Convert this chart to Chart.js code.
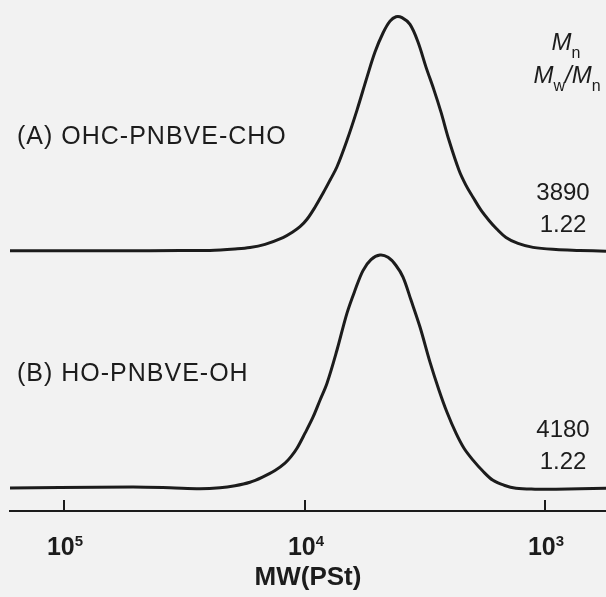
<!DOCTYPE html>
<html>
<head>
<meta charset="utf-8">
<script src="https://cdn.jsdelivr.net/npm/chart.js"></script>
<style>
  html, body { margin: 0; padding: 0; background: #f2f2f2; }
  #wrap { width: 606px; height: 597px; }
</style>
</head>
<body>
<div id="wrap"><canvas id="gpcChart"></canvas></div>

<script>
// GPC traces: log10(MW) against normalised RI response
const logMwA = [5.2245, 5.0166, 4.7672, 4.5177, 4.3929, 4.2890, 4.2266, 4.1642, 4.0894, 4.0520, 4.0187,
                3.9896, 3.9563, 3.9231, 3.8940, 3.8649, 3.8233, 3.7817, 3.7401, 3.7069, 3.6736,
                3.6445, 3.6195, 3.5946, 3.5613, 3.5281, 3.4948, 3.4615, 3.4324, 3.3992, 3.3576,
                3.3285, 3.2994, 3.2661, 3.2328, 3.1996, 3.1622, 3.1123, 3.0499, 2.9543, 2.8545, 2.7464];
const respA  = [0, 0, 0, 0.001, 0.002, 0.008, 0.014, 0.028, 0.057, 0.079, 0.104,
                0.136, 0.188, 0.248, 0.304, 0.362, 0.476, 0.606, 0.748, 0.856, 0.938,
                0.989, 1.008, 1.004, 0.975, 0.899, 0.791, 0.692, 0.597, 0.476, 0.347,
                0.282, 0.231, 0.175, 0.131, 0.093, 0.058, 0.032, 0.015, 0.006, 0.002, -0.002];

const logMwB = [5.2245, 5.0166, 4.7131, 4.5593, 4.4345, 4.3514, 4.2890, 4.2266, 4.1767, 4.1227,
                4.0811, 4.0561, 4.0312, 3.9979, 3.9647, 3.9356, 3.9064, 3.8649, 3.8233, 3.7900, 3.7568,
                3.7235, 3.6861, 3.6528, 3.6195, 3.5904, 3.5572, 3.5198, 3.4782, 3.4407, 3.4075,
                3.3701, 3.3368, 3.2994, 3.2578, 3.2162, 3.1705, 3.1206, 3.0416, 2.9543, 2.8545, 2.7464];
const respB  = [-0.001, 0.001, 0.003, 0, -0.004, 0, 0.009, 0.024, 0.045, 0.074,
                0.106, 0.134, 0.170, 0.235, 0.304, 0.377, 0.450, 0.593, 0.752, 0.850, 0.935,
                0.982, 1.002, 0.992, 0.957, 0.907, 0.808, 0.692, 0.541, 0.420, 0.325,
                0.235, 0.170, 0.119, 0.071, 0.032, 0.011, -0.002, -0.006, -0.006, -0.004, -0.002];

const sampleNames  = ['(A) OHC-PNBVE-CHO', '(B) HO-PNBVE-OH'];
const mnValues     = ['3890', '4180'];
const dispersities = ['1.22', '1.22'];
const traceOffsets = [1.02, 0];   // stacking of the two traces

const mwTicks = [1e5, 1e4, 1e3];
const tickExponents = ['5', '4', '3'];

const FONT = '"Liberation Sans", Arial, sans-serif';
const INK = '#1c1c1c';

function drawRuns(ctx, runs, cx, baseY) {
  let total = 0;
  runs.forEach(r => { ctx.font = r.font; r.w = ctx.measureText(r.text).width; total += r.w; });
  let x = cx - total / 2;
  runs.forEach(r => {
    ctx.font = r.font;
    ctx.fillText(r.text, x, baseY + (r.dy || 0));
    x += r.w;
  });
}

const gpcDecor = {
  id: 'gpcDecor',
  afterDraw(chart) {
    const ctx = chart.ctx;
    const xs = chart.scales.x, ys = chart.scales.y;
    ctx.save();
    ctx.fillStyle = INK;
    ctx.strokeStyle = INK;
    ctx.textAlign = 'left';
    ctx.textBaseline = 'alphabetic';

    // inward tick marks + 10^n labels
    ctx.lineWidth = 2;
    mwTicks.forEach((v, i) => {
      const px = Math.round(xs.getPixelForValue(v));
      ctx.beginPath();
      ctx.moveTo(px, xs.top);
      ctx.lineTo(px, xs.top - 11);
      ctx.stroke();
      drawRuns(ctx, [
        { text: '10', font: 'bold 25px ' + FONT },
        { text: tickExponents[i], font: 'bold 15px ' + FONT, dy: -9 }
      ], px + 1, xs.top + 44);
    });

    // sample names and Mn / dispersity
    sampleNames.forEach((name, i) => {
      ctx.font = '25px ' + FONT;
      ctx.letterSpacing = '1px';
      ctx.fillText(name, 17, ys.getPixelForValue(traceOffsets[i] + 0.46));
      ctx.letterSpacing = '0px';
      drawRuns(ctx, [{ text: mnValues[i], font: '24px ' + FONT }], 563, ys.getPixelForValue(traceOffsets[i] + 0.22));
      drawRuns(ctx, [{ text: dispersities[i], font: '24px ' + FONT }], 563, ys.getPixelForValue(traceOffsets[i] + 0.082));
    });

    // column header
    const it = 'italic 24px ' + FONT, sub = '16px ' + FONT;
    drawRuns(ctx, [{ text: 'M', font: it }, { text: 'n', font: sub, dy: 8 }], 566, 50);
    drawRuns(ctx, [
      { text: 'M', font: it }, { text: 'w', font: sub, dy: 8 }, { text: '/', font: it },
      { text: 'M', font: it }, { text: 'n', font: sub, dy: 8 }
    ], 567, 83);
    ctx.restore();
  }
};

const ctx = document.getElementById('gpcChart');

new Chart(ctx, {
  type: 'line',
  data: {
    datasets: [
      {
        label: sampleNames[0],
        data: logMwA.map((l, i) => ({ x: Math.pow(10, l), y: respA[i] + traceOffsets[0] })),
        borderColor: INK, borderWidth: 3, pointRadius: 0, tension: 0.35, fill: false
      },
      {
        label: sampleNames[1],
        data: logMwB.map((l, i) => ({ x: Math.pow(10, l), y: respB[i] + traceOffsets[1] })),
        borderColor: INK, borderWidth: 3, pointRadius: 0, tension: 0.35, fill: false
      }
    ]
  },
  options: {
    responsive: true,
    maintainAspectRatio: false,
    animation: false,
    layout: { padding: { left: 10, right: 0, top: 0, bottom: 0 } },
    plugins: { legend: { display: false }, tooltip: { enabled: false } },
    scales: {
      x: {
        type: 'logarithmic',
        reverse: true,
        min: Math.pow(10, 2.7464),
        max: Math.pow(10, 5.2245),
        afterFit: s => { s.height = 86; },
        grid: { drawOnChartArea: false, drawTicks: false },
        border: { display: true, color: INK, width: 2 },
        ticks: { display: false },
        title: {
          display: true, text: 'MW(PSt)', color: INK,
          font: { family: FONT, size: 26, weight: 'bold' },
          padding: { top: 0, bottom: 4 }
        }
      },
      y: { display: false, min: -0.1, max: 2.1 }
    }
  },
  plugins: [gpcDecor]
});
</script>
</body>
</html>
